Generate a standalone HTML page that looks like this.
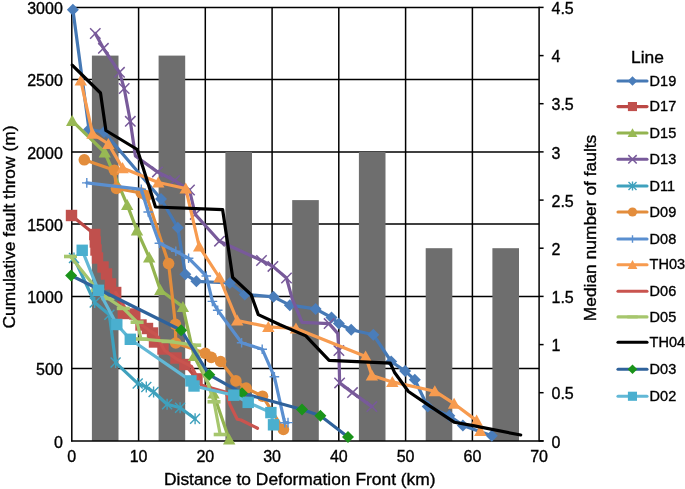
<!DOCTYPE html><html><head><meta charset="utf-8"><style>html,body{margin:0;padding:0;background:#fff;}svg{display:block;will-change:transform}text{font-family:"Liberation Sans", sans-serif;fill:#000;stroke:#000;stroke-width:0.35px}</style></head><body>
<svg width="685" height="489" viewBox="0 0 685 489">
<rect width="685" height="489" fill="#fff"/>
<g stroke="#000" stroke-width="1.5"><line x1="71.8" y1="368.6" x2="539.1" y2="368.6"/><line x1="71.8" y1="296.4" x2="539.1" y2="296.4"/><line x1="71.8" y1="224.1" x2="539.1" y2="224.1"/><line x1="71.8" y1="151.9" x2="539.1" y2="151.9"/><line x1="71.8" y1="79.6" x2="539.1" y2="79.6"/><line x1="71.8" y1="7.4" x2="539.1" y2="7.4"/><line x1="138.6" y1="7.4" x2="138.6" y2="440.9"/><line x1="205.3" y1="7.4" x2="205.3" y2="440.9"/><line x1="272.1" y1="7.4" x2="272.1" y2="440.9"/><line x1="338.8" y1="7.4" x2="338.8" y2="440.9"/><line x1="405.6" y1="7.4" x2="405.6" y2="440.9"/><line x1="472.4" y1="7.4" x2="472.4" y2="440.9"/></g>
<rect x="91.9" y="55.6" width="26.6" height="385.3" fill="#6e6e6e"/>
<rect x="158.6" y="55.6" width="26.6" height="385.3" fill="#6e6e6e"/>
<rect x="225.4" y="151.9" width="26.6" height="289.0" fill="#6e6e6e"/>
<rect x="292.2" y="200.1" width="26.6" height="240.8" fill="#6e6e6e"/>
<rect x="358.9" y="151.9" width="26.6" height="289.0" fill="#6e6e6e"/>
<rect x="425.7" y="248.2" width="26.6" height="192.7" fill="#6e6e6e"/>
<rect x="492.4" y="248.2" width="26.6" height="192.7" fill="#6e6e6e"/>
<g stroke="#000" stroke-width="1.5" fill="none"><line x1="71.8" y1="6.7" x2="71.8" y2="441.6"/><line x1="71.1" y1="440.9" x2="543.6" y2="440.9"/><line x1="539.1" y1="6.7" x2="539.1" y2="441.6"/>
<line x1="539.1" y1="440.9" x2="543.6" y2="440.9"/>
<line x1="539.1" y1="392.7" x2="543.6" y2="392.7"/>
<line x1="539.1" y1="344.6" x2="543.6" y2="344.6"/>
<line x1="539.1" y1="296.4" x2="543.6" y2="296.4"/>
<line x1="539.1" y1="248.2" x2="543.6" y2="248.2"/>
<line x1="539.1" y1="200.1" x2="543.6" y2="200.1"/>
<line x1="539.1" y1="151.9" x2="543.6" y2="151.9"/>
<line x1="539.1" y1="103.7" x2="543.6" y2="103.7"/>
<line x1="539.1" y1="55.6" x2="543.6" y2="55.6"/>
<line x1="539.1" y1="7.4" x2="543.6" y2="7.4"/>
</g>
<path d="M72.9 9.8L89.0 129.5L104.0 132.0L161.0 199.0L177.8 227.8L185.3 274.3L196.4 281.3L229.9 283.0L244.8 294.4L273.5 296.8L289.8 305.2L315.6 308.9L331.5 317.5L338.9 323.6L351.2 329.8L373.3 334.7L391.2 361.5L405.1 371.1L414.8 379.7L427.7 406.6L449.3 415.8L462.9 425.4L491.8 435.8" fill="none" stroke="#4679b5" stroke-width="3.2" stroke-linejoin="round" stroke-linecap="round"/>
<path d="M72.9 3.8L78.9 9.8L72.9 15.8L66.9 9.8Z" fill="#4a7dba"/>
<path d="M89.0 123.5L95.0 129.5L89.0 135.5L83.0 129.5Z" fill="#4a7dba"/>
<path d="M104.0 126.0L110.0 132.0L104.0 138.0L98.0 132.0Z" fill="#4a7dba"/>
<path d="M161.0 193.0L167.0 199.0L161.0 205.0L155.0 199.0Z" fill="#4a7dba"/>
<path d="M177.8 221.8L183.8 227.8L177.8 233.8L171.8 227.8Z" fill="#4a7dba"/>
<path d="M185.3 268.3L191.3 274.3L185.3 280.3L179.3 274.3Z" fill="#4a7dba"/>
<path d="M196.4 275.3L202.4 281.3L196.4 287.3L190.4 281.3Z" fill="#4a7dba"/>
<path d="M229.9 277.0L235.9 283.0L229.9 289.0L223.9 283.0Z" fill="#4a7dba"/>
<path d="M244.8 288.4L250.8 294.4L244.8 300.4L238.8 294.4Z" fill="#4a7dba"/>
<path d="M273.5 290.8L279.5 296.8L273.5 302.8L267.5 296.8Z" fill="#4a7dba"/>
<path d="M289.8 299.2L295.8 305.2L289.8 311.2L283.8 305.2Z" fill="#4a7dba"/>
<path d="M315.6 302.9L321.6 308.9L315.6 314.9L309.6 308.9Z" fill="#4a7dba"/>
<path d="M331.5 311.5L337.5 317.5L331.5 323.5L325.5 317.5Z" fill="#4a7dba"/>
<path d="M338.9 317.6L344.9 323.6L338.9 329.6L332.9 323.6Z" fill="#4a7dba"/>
<path d="M351.2 323.8L357.2 329.8L351.2 335.8L345.2 329.8Z" fill="#4a7dba"/>
<path d="M373.3 328.7L379.3 334.7L373.3 340.7L367.3 334.7Z" fill="#4a7dba"/>
<path d="M391.2 355.5L397.2 361.5L391.2 367.5L385.2 361.5Z" fill="#4a7dba"/>
<path d="M405.1 365.1L411.1 371.1L405.1 377.1L399.1 371.1Z" fill="#4a7dba"/>
<path d="M414.8 373.7L420.8 379.7L414.8 385.7L408.8 379.7Z" fill="#4a7dba"/>
<path d="M427.7 400.6L433.7 406.6L427.7 412.6L421.7 406.6Z" fill="#4a7dba"/>
<path d="M449.3 409.8L455.3 415.8L449.3 421.8L443.3 415.8Z" fill="#4a7dba"/>
<path d="M462.9 419.4L468.9 425.4L462.9 431.4L456.9 425.4Z" fill="#4a7dba"/>
<path d="M491.8 429.8L497.8 435.8L491.8 441.8L485.8 435.8Z" fill="#4a7dba"/>
<path d="M71.5 215.5L94.8 234.5L95.3 242.0L96.0 250.0L97.5 258.0L103.0 267.0L106.5 274.0L110.5 284.0L115.7 292.5L123.3 313.5L134.8 314.0L141.0 325.0L147.5 328.5L152.5 333.0L154.5 342.0L163.0 349.0L176.0 358.0L184.8 364.5L197.0 378.9" fill="none" stroke="#bb4845" stroke-width="3.2" stroke-linejoin="round" stroke-linecap="round"/>
<rect x="65.8" y="209.8" width="11.4" height="11.4" fill="#c0504d"/>
<rect x="89.1" y="228.8" width="11.4" height="11.4" fill="#c0504d"/>
<rect x="89.6" y="236.3" width="11.4" height="11.4" fill="#c0504d"/>
<rect x="90.3" y="244.3" width="11.4" height="11.4" fill="#c0504d"/>
<rect x="91.8" y="252.3" width="11.4" height="11.4" fill="#c0504d"/>
<rect x="97.3" y="261.3" width="11.4" height="11.4" fill="#c0504d"/>
<rect x="100.8" y="268.3" width="11.4" height="11.4" fill="#c0504d"/>
<rect x="104.8" y="278.3" width="11.4" height="11.4" fill="#c0504d"/>
<rect x="110.0" y="286.8" width="11.4" height="11.4" fill="#c0504d"/>
<rect x="117.6" y="307.8" width="11.4" height="11.4" fill="#c0504d"/>
<rect x="129.1" y="308.3" width="11.4" height="11.4" fill="#c0504d"/>
<rect x="135.3" y="319.3" width="11.4" height="11.4" fill="#c0504d"/>
<rect x="141.8" y="322.8" width="11.4" height="11.4" fill="#c0504d"/>
<rect x="146.8" y="327.3" width="11.4" height="11.4" fill="#c0504d"/>
<rect x="148.8" y="336.3" width="11.4" height="11.4" fill="#c0504d"/>
<rect x="157.3" y="343.3" width="11.4" height="11.4" fill="#c0504d"/>
<rect x="170.3" y="352.3" width="11.4" height="11.4" fill="#c0504d"/>
<rect x="179.1" y="358.8" width="11.4" height="11.4" fill="#c0504d"/>
<rect x="191.3" y="373.2" width="11.4" height="11.4" fill="#c0504d"/>
<path d="M72.2 120.8L104.8 152.5L127.2 204.9L137.0 230.3L149.2 257.5L160.3 290.0L182.9 306.9L194.0 356.0L213.5 393.4L229.2 439.4" fill="none" stroke="#93b450" stroke-width="3.2" stroke-linejoin="round" stroke-linecap="round"/>
<path d="M72.2 114.8L78.4 125.9L66.0 125.9Z" fill="#98b954"/>
<path d="M104.8 146.5L111.0 157.6L98.6 157.6Z" fill="#98b954"/>
<path d="M127.2 198.9L133.4 210.0L121.0 210.0Z" fill="#98b954"/>
<path d="M137.0 224.3L143.2 235.4L130.8 235.4Z" fill="#98b954"/>
<path d="M149.2 251.5L155.4 262.6L143.0 262.6Z" fill="#98b954"/>
<path d="M160.3 284.0L166.5 295.1L154.1 295.1Z" fill="#98b954"/>
<path d="M182.9 300.9L189.1 312.0L176.7 312.0Z" fill="#98b954"/>
<path d="M194.0 350.0L200.2 361.1L187.8 361.1Z" fill="#98b954"/>
<path d="M213.5 387.4L219.7 398.5L207.3 398.5Z" fill="#98b954"/>
<path d="M229.2 433.4L235.4 444.5L223.0 444.5Z" fill="#98b954"/>
<path d="M95.3 33.5L103.4 48.3L119.5 72.3L124.2 88.5L130.3 121.3L135.4 156.0L157.4 171.9L174.6 180.5L189.5 190.0L195.2 214.4L219.5 241.2L261.5 260.5L272.9 266.4L286.5 278.0L292.3 299.1L302.1 322.4L329.1 323.6L337.7 333.4L338.9 350.6L339.6 382.9L352.5 392.6L371.9 406.6" fill="none" stroke="#785a9a" stroke-width="3.2" stroke-linejoin="round" stroke-linecap="round"/>
<path d="M90.1 28.3L100.5 38.7M100.5 28.3L90.1 38.7" stroke="#785a9a" stroke-width="1.5" fill="none"/>
<path d="M98.2 43.1L108.6 53.5M108.6 43.1L98.2 53.5" stroke="#785a9a" stroke-width="1.5" fill="none"/>
<path d="M114.3 67.1L124.7 77.5M124.7 67.1L114.3 77.5" stroke="#785a9a" stroke-width="1.5" fill="none"/>
<path d="M119.0 83.3L129.4 93.7M129.4 83.3L119.0 93.7" stroke="#785a9a" stroke-width="1.5" fill="none"/>
<path d="M125.1 116.1L135.5 126.5M135.5 116.1L125.1 126.5" stroke="#785a9a" stroke-width="1.5" fill="none"/>
<path d="M152.2 166.7L162.6 177.1M162.6 166.7L152.2 177.1" stroke="#785a9a" stroke-width="1.5" fill="none"/>
<path d="M169.4 175.3L179.8 185.7M179.8 175.3L169.4 185.7" stroke="#785a9a" stroke-width="1.5" fill="none"/>
<path d="M184.3 184.8L194.7 195.2M194.7 184.8L184.3 195.2" stroke="#785a9a" stroke-width="1.5" fill="none"/>
<path d="M190.0 209.2L200.4 219.6M200.4 209.2L190.0 219.6" stroke="#785a9a" stroke-width="1.5" fill="none"/>
<path d="M214.3 236.0L224.7 246.4M224.7 236.0L214.3 246.4" stroke="#785a9a" stroke-width="1.5" fill="none"/>
<path d="M256.3 255.3L266.7 265.7M266.7 255.3L256.3 265.7" stroke="#785a9a" stroke-width="1.5" fill="none"/>
<path d="M267.7 261.2L278.1 271.6M278.1 261.2L267.7 271.6" stroke="#785a9a" stroke-width="1.5" fill="none"/>
<path d="M281.3 272.8L291.7 283.2M291.7 272.8L281.3 283.2" stroke="#785a9a" stroke-width="1.5" fill="none"/>
<path d="M323.9 318.4L334.3 328.8M334.3 318.4L323.9 328.8" stroke="#785a9a" stroke-width="1.5" fill="none"/>
<path d="M333.7 345.4L344.1 355.8M344.1 345.4L333.7 355.8" stroke="#785a9a" stroke-width="1.5" fill="none"/>
<path d="M334.4 377.7L344.8 388.1M344.8 377.7L334.4 388.1" stroke="#785a9a" stroke-width="1.5" fill="none"/>
<path d="M347.3 387.4L357.7 397.8M357.7 387.4L347.3 397.8" stroke="#785a9a" stroke-width="1.5" fill="none"/>
<path d="M366.7 401.4L377.1 411.8M377.1 401.4L366.7 411.8" stroke="#785a9a" stroke-width="1.5" fill="none"/>
<path d="M74.0 258.0L94.7 302.5L109.4 314.7L115.6 362.6L137.7 383.4L146.3 387.1L153.6 392.0L167.1 404.3L180.1 407.8L195.1 418.8" fill="none" stroke="#3fa1bd" stroke-width="3.2" stroke-linejoin="round" stroke-linecap="round"/>
<path d="M69.0 253.0L79.0 263.0M79.0 253.0L69.0 263.0M74.0 252.5L74.0 263.5" stroke="#3fa1bd" stroke-width="1.4" fill="none"/>
<path d="M89.7 297.5L99.7 307.5M99.7 297.5L89.7 307.5M94.7 297.0L94.7 308.0" stroke="#3fa1bd" stroke-width="1.4" fill="none"/>
<path d="M104.4 309.7L114.4 319.7M114.4 309.7L104.4 319.7M109.4 309.2L109.4 320.2" stroke="#3fa1bd" stroke-width="1.4" fill="none"/>
<path d="M110.6 357.6L120.6 367.6M120.6 357.6L110.6 367.6M115.6 357.1L115.6 368.1" stroke="#3fa1bd" stroke-width="1.4" fill="none"/>
<path d="M132.7 378.4L142.7 388.4M142.7 378.4L132.7 388.4M137.7 377.9L137.7 388.9" stroke="#3fa1bd" stroke-width="1.4" fill="none"/>
<path d="M141.3 382.1L151.3 392.1M151.3 382.1L141.3 392.1M146.3 381.6L146.3 392.6" stroke="#3fa1bd" stroke-width="1.4" fill="none"/>
<path d="M148.6 387.0L158.6 397.0M158.6 387.0L148.6 397.0M153.6 386.5L153.6 397.5" stroke="#3fa1bd" stroke-width="1.4" fill="none"/>
<path d="M162.1 399.3L172.1 409.3M172.1 399.3L162.1 409.3M167.1 398.8L167.1 409.8" stroke="#3fa1bd" stroke-width="1.4" fill="none"/>
<path d="M175.1 402.8L185.1 412.8M185.1 402.8L175.1 412.8M180.1 402.3L180.1 413.3" stroke="#3fa1bd" stroke-width="1.4" fill="none"/>
<path d="M190.1 413.8L200.1 423.8M200.1 413.8L190.1 423.8M195.1 413.3L195.1 424.3" stroke="#3fa1bd" stroke-width="1.4" fill="none"/>
<path d="M84.3 159.8L114.4 170.2L116.5 188.5L141.3 193.0L146.5 195.7L168.6 263.6L175.4 324.3L175.7 343.0L205.2 353.3L211.3 357.4L220.6 361.5L235.9 380.9L246.1 388.1L262.5 396.2L283.4 429.4" fill="none" stroke="#e38d3c" stroke-width="3.2" stroke-linejoin="round" stroke-linecap="round"/>
<circle cx="84.3" cy="159.8" r="5.8" fill="#e38d3c"/>
<circle cx="114.4" cy="170.2" r="5.8" fill="#e38d3c"/>
<circle cx="116.5" cy="188.5" r="5.8" fill="#e38d3c"/>
<circle cx="141.3" cy="193.0" r="5.8" fill="#e38d3c"/>
<circle cx="146.5" cy="195.7" r="5.8" fill="#e38d3c"/>
<circle cx="168.6" cy="263.6" r="5.8" fill="#e38d3c"/>
<circle cx="175.4" cy="324.3" r="5.8" fill="#e38d3c"/>
<circle cx="175.7" cy="343.0" r="5.8" fill="#e38d3c"/>
<circle cx="205.2" cy="353.3" r="5.8" fill="#e38d3c"/>
<circle cx="211.3" cy="357.4" r="5.8" fill="#e38d3c"/>
<circle cx="220.6" cy="361.5" r="5.8" fill="#e38d3c"/>
<circle cx="235.9" cy="380.9" r="5.8" fill="#e38d3c"/>
<circle cx="246.1" cy="388.1" r="5.8" fill="#e38d3c"/>
<circle cx="262.5" cy="396.2" r="5.8" fill="#e38d3c"/>
<circle cx="283.4" cy="429.4" r="5.8" fill="#e38d3c"/>
<path d="M86.8 182.9L141.3 189.3L148.2 212.0L159.4 243.2L175.8 251.3L188.6 258.2L206.3 276.0L212.4 301.4L217.7 310.2L241.6 342.8L262.2 349.2L274.4 376.8L284.7 422.8L288.0 422.6" fill="none" stroke="#5a8fd0" stroke-width="3.2" stroke-linejoin="round" stroke-linecap="round"/>
<path d="M86.8 178.1L86.8 187.7M82.0 182.9L91.6 182.9" stroke="#5a8fd0" stroke-width="1.4" fill="none"/>
<path d="M141.3 184.5L141.3 194.1M136.5 189.3L146.1 189.3" stroke="#5a8fd0" stroke-width="1.4" fill="none"/>
<path d="M148.2 207.2L148.2 216.8M143.4 212.0L153.0 212.0" stroke="#5a8fd0" stroke-width="1.4" fill="none"/>
<path d="M159.4 238.4L159.4 248.0M154.6 243.2L164.2 243.2" stroke="#5a8fd0" stroke-width="1.4" fill="none"/>
<path d="M175.8 246.5L175.8 256.1M171.0 251.3L180.6 251.3" stroke="#5a8fd0" stroke-width="1.4" fill="none"/>
<path d="M188.6 253.4L188.6 263.0M183.8 258.2L193.4 258.2" stroke="#5a8fd0" stroke-width="1.4" fill="none"/>
<path d="M206.3 271.2L206.3 280.8M201.5 276.0L211.1 276.0" stroke="#5a8fd0" stroke-width="1.4" fill="none"/>
<path d="M212.4 296.6L212.4 306.2M207.6 301.4L217.2 301.4" stroke="#5a8fd0" stroke-width="1.4" fill="none"/>
<path d="M217.7 305.4L217.7 315.0M212.9 310.2L222.5 310.2" stroke="#5a8fd0" stroke-width="1.4" fill="none"/>
<path d="M241.6 338.0L241.6 347.6M236.8 342.8L246.4 342.8" stroke="#5a8fd0" stroke-width="1.4" fill="none"/>
<path d="M262.2 344.4L262.2 354.0M257.4 349.2L267.0 349.2" stroke="#5a8fd0" stroke-width="1.4" fill="none"/>
<path d="M274.4 372.0L274.4 381.6M269.6 376.8L279.2 376.8" stroke="#5a8fd0" stroke-width="1.4" fill="none"/>
<path d="M284.7 418.0L284.7 427.6M279.9 422.8L289.5 422.8" stroke="#5a8fd0" stroke-width="1.4" fill="none"/>
<path d="M288.0 417.8L288.0 427.4M283.2 422.6L292.8 422.6" stroke="#5a8fd0" stroke-width="1.4" fill="none"/>
<path d="M80.8 80.4L92.5 133.6L108.4 144.0L122.6 168.1L158.3 182.5L185.7 188.5L199.2 246.5L219.4 277.5L237.2 320.5L268.3 326.9L296.0 328.5L365.6 356.4L371.9 375.4L392.3 381.9L434.8 391.2L454.1 403.7L476.6 420.6L480.3 431.0" fill="none" stroke="#f79b4f" stroke-width="3.2" stroke-linejoin="round" stroke-linecap="round"/>
<path d="M80.8 74.4L87.0 85.5L74.6 85.5Z" fill="#f79b4f"/>
<path d="M92.5 127.6L98.7 138.7L86.3 138.7Z" fill="#f79b4f"/>
<path d="M108.4 138.0L114.6 149.1L102.2 149.1Z" fill="#f79b4f"/>
<path d="M122.6 162.1L128.8 173.2L116.4 173.2Z" fill="#f79b4f"/>
<path d="M158.3 176.5L164.5 187.6L152.1 187.6Z" fill="#f79b4f"/>
<path d="M185.7 182.5L191.9 193.6L179.5 193.6Z" fill="#f79b4f"/>
<path d="M199.2 240.5L205.4 251.6L193.0 251.6Z" fill="#f79b4f"/>
<path d="M219.4 271.5L225.6 282.6L213.2 282.6Z" fill="#f79b4f"/>
<path d="M237.2 314.5L243.4 325.6L231.0 325.6Z" fill="#f79b4f"/>
<path d="M268.3 320.9L274.5 332.0L262.1 332.0Z" fill="#f79b4f"/>
<path d="M296.0 322.5L302.2 333.6L289.8 333.6Z" fill="#f79b4f"/>
<path d="M365.6 350.4L371.8 361.5L359.4 361.5Z" fill="#f79b4f"/>
<path d="M371.9 369.4L378.1 380.5L365.7 380.5Z" fill="#f79b4f"/>
<path d="M392.3 375.9L398.5 387.0L386.1 387.0Z" fill="#f79b4f"/>
<path d="M434.8 385.2L441.0 396.3L428.6 396.3Z" fill="#f79b4f"/>
<path d="M454.1 397.7L460.3 408.8L447.9 408.8Z" fill="#f79b4f"/>
<path d="M476.6 414.6L482.8 425.7L470.4 425.7Z" fill="#f79b4f"/>
<path d="M480.3 425.0L486.5 436.1L474.1 436.1Z" fill="#f79b4f"/>
<path d="M115.7 292.5L130.0 316.0L150.0 331.0L156.0 334.5L164.5 350.5L176.8 359.1L191.5 366.4L201.1 385.0L226.2 392.3L229.9 404.5L237.3 419.3L241.0 420.0L257.5 428.3" fill="none" stroke="#c9544f" stroke-width="3.2" stroke-linejoin="round" stroke-linecap="round"/>













<path d="M70.5 256.5L97.7 290.3L108.0 298.5L123.3 308.4L137.1 322.2L141.0 339.0L168.0 341.4L194.7 345.2L214.0 401.8L220.2 434.5" fill="none" stroke="#a6c66d" stroke-width="3.2" stroke-linejoin="round" stroke-linecap="round"/>
<rect x="64.0" y="254.7" width="13.0" height="3.6" fill="#a6c66d"/>
<rect x="91.2" y="288.5" width="13.0" height="3.6" fill="#a6c66d"/>
<rect x="101.5" y="296.7" width="13.0" height="3.6" fill="#a6c66d"/>
<rect x="116.8" y="306.6" width="13.0" height="3.6" fill="#a6c66d"/>
<rect x="130.6" y="320.4" width="13.0" height="3.6" fill="#a6c66d"/>
<rect x="134.5" y="337.2" width="13.0" height="3.6" fill="#a6c66d"/>
<rect x="161.5" y="339.6" width="13.0" height="3.6" fill="#a6c66d"/>
<rect x="188.2" y="343.4" width="13.0" height="3.6" fill="#a6c66d"/>
<rect x="207.5" y="400.0" width="13.0" height="3.6" fill="#a6c66d"/>
<rect x="213.7" y="432.7" width="13.0" height="3.6" fill="#a6c66d"/>
<path d="M72.2 65.1L100.5 93.0L105.9 130.5L137.3 149.5L155.5 207.0L222.6 209.6L232.7 277.5L251.1 294.6L258.3 314.6L280.0 324.8L305.8 335.9L329.1 360.4L390.3 363.2L394.4 372.2L408.4 391.5L430.0 406.1L454.1 422.2L471.8 425.4L520.7 435.0" fill="none" stroke="#000000" stroke-width="3.2" stroke-linejoin="round" stroke-linecap="round"/>
<path d="M71.1 275.5L181.1 330.2L209.3 374.8L242.0 393.2L302.0 409.5L320.4 415.7L348.0 436.9" fill="none" stroke="#2f629b" stroke-width="3.2" stroke-linejoin="round" stroke-linecap="round"/>
<path d="M71.1 269.5L77.1 275.5L71.1 281.5L65.1 275.5Z" fill="#1a931a"/>
<path d="M181.1 324.2L187.1 330.2L181.1 336.2L175.1 330.2Z" fill="#1a931a"/>
<path d="M209.3 368.8L215.3 374.8L209.3 380.8L203.3 374.8Z" fill="#1a931a"/>
<path d="M242.0 387.2L248.0 393.2L242.0 399.2L236.0 393.2Z" fill="#1a931a"/>
<path d="M302.0 403.5L308.0 409.5L302.0 415.5L296.0 409.5Z" fill="#1a931a"/>
<path d="M320.4 409.7L326.4 415.7L320.4 421.7L314.4 415.7Z" fill="#1a931a"/>
<path d="M348.0 430.9L354.0 436.9L348.0 442.9L342.0 436.9Z" fill="#1a931a"/>
<path d="M82.2 250.3L98.4 290.3L116.8 324.5L130.3 339.3L190.9 380.9L194.0 386.0L233.8 395.2L248.2 402.4L270.9 412.6L273.5 424.8" fill="none" stroke="#62b8d6" stroke-width="3.2" stroke-linejoin="round" stroke-linecap="round"/>
<rect x="76.5" y="244.6" width="11.4" height="11.4" fill="#4aafcf"/>
<rect x="92.7" y="284.6" width="11.4" height="11.4" fill="#4aafcf"/>
<rect x="111.1" y="318.8" width="11.4" height="11.4" fill="#4aafcf"/>
<rect x="124.6" y="333.6" width="11.4" height="11.4" fill="#4aafcf"/>
<rect x="185.2" y="375.2" width="11.4" height="11.4" fill="#4aafcf"/>
<rect x="188.3" y="380.3" width="11.4" height="11.4" fill="#4aafcf"/>
<rect x="228.1" y="389.5" width="11.4" height="11.4" fill="#4aafcf"/>
<rect x="242.5" y="396.7" width="11.4" height="11.4" fill="#4aafcf"/>
<rect x="265.2" y="406.9" width="11.4" height="11.4" fill="#4aafcf"/>
<rect x="267.8" y="419.1" width="11.4" height="11.4" fill="#4aafcf"/>
<text x="62.8" y="447.5" font-size="16" text-anchor="end">0</text>
<text x="62.8" y="375.2" font-size="16" text-anchor="end">500</text>
<text x="62.8" y="303.0" font-size="16" text-anchor="end">1000</text>
<text x="62.8" y="230.7" font-size="16" text-anchor="end">1500</text>
<text x="62.8" y="158.5" font-size="16" text-anchor="end">2000</text>
<text x="62.8" y="86.2" font-size="16" text-anchor="end">2500</text>
<text x="62.8" y="14.0" font-size="16" text-anchor="end">3000</text>
<text x="71.8" y="461.5" font-size="16" text-anchor="middle">0</text>
<text x="138.6" y="461.5" font-size="16" text-anchor="middle">10</text>
<text x="205.3" y="461.5" font-size="16" text-anchor="middle">20</text>
<text x="272.1" y="461.5" font-size="16" text-anchor="middle">30</text>
<text x="338.8" y="461.5" font-size="16" text-anchor="middle">40</text>
<text x="405.6" y="461.5" font-size="16" text-anchor="middle">50</text>
<text x="472.4" y="461.5" font-size="16" text-anchor="middle">60</text>
<text x="539.1" y="461.5" font-size="16" text-anchor="middle">70</text>
<text x="551.5" y="447.5" font-size="16">0</text>
<text x="551.5" y="399.3" font-size="16">0.5</text>
<text x="551.5" y="351.2" font-size="16">1</text>
<text x="551.5" y="303.0" font-size="16">1.5</text>
<text x="551.5" y="254.8" font-size="16">2</text>
<text x="551.5" y="206.7" font-size="16">2.5</text>
<text x="551.5" y="158.5" font-size="16">3</text>
<text x="551.5" y="110.3" font-size="16">3.5</text>
<text x="551.5" y="62.2" font-size="16">4</text>
<text x="551.5" y="14.0" font-size="16">4.5</text>
<text x="164" y="484.8" font-size="17.4">Distance to Deformation Front (km)</text>
<text transform="translate(15.3,227) rotate(-90)" font-size="17.4" text-anchor="middle">Cumulative fault throw (m)</text>
<text transform="translate(595.8,228) rotate(-90)" font-size="17.4" text-anchor="middle">Median number of faults</text>
<text x="631" y="63.2" font-size="17.4">Line</text>
<line x1="618" y1="81.0" x2="647" y2="81.0" stroke="#4679b5" stroke-width="3.1" stroke-linecap="round"/>
<path d="M632.5 76.2L637.3 81.0L632.5 85.8L627.7 81.0Z" fill="#4a7dba"/>
<text x="649.6" y="85.6" font-size="14.5">D19</text>
<line x1="618" y1="106.6" x2="647" y2="106.6" stroke="#bb4845" stroke-width="3.1" stroke-linecap="round"/>
<rect x="627.9" y="102.0" width="9.1" height="9.1" fill="#c0504d"/>
<text x="649.6" y="111.2" font-size="14.5">D17</text>
<line x1="618" y1="133.0" x2="647" y2="133.0" stroke="#93b450" stroke-width="3.1" stroke-linecap="round"/>
<path d="M632.5 128.2L637.4 137.1L627.6 137.1Z" fill="#98b954"/>
<text x="649.6" y="137.6" font-size="14.5">D15</text>
<line x1="618" y1="159.3" x2="647" y2="159.3" stroke="#785a9a" stroke-width="3.1" stroke-linecap="round"/>
<path d="M628.3 155.1L636.7 163.5M636.7 155.1L628.3 163.5" stroke="#785a9a" stroke-width="1.5" fill="none"/>
<text x="649.6" y="163.9" font-size="14.5">D13</text>
<line x1="618" y1="186.0" x2="647" y2="186.0" stroke="#3fa1bd" stroke-width="3.1" stroke-linecap="round"/>
<path d="M628.5 182.0L636.5 190.0M636.5 182.0L628.5 190.0M632.5 181.6L632.5 190.4" stroke="#3fa1bd" stroke-width="1.4" fill="none"/>
<text x="649.6" y="190.6" font-size="14.5">D11</text>
<line x1="618" y1="212.0" x2="647" y2="212.0" stroke="#e38d3c" stroke-width="3.1" stroke-linecap="round"/>
<circle cx="632.5" cy="212.0" r="4.6" fill="#e38d3c"/>
<text x="649.6" y="216.6" font-size="14.5">D09</text>
<line x1="618" y1="239.0" x2="647" y2="239.0" stroke="#5a8fd0" stroke-width="3.1" stroke-linecap="round"/>
<path d="M632.5 235.2L632.5 242.8M628.7 239.0L636.3 239.0" stroke="#5a8fd0" stroke-width="1.4" fill="none"/>
<text x="649.6" y="243.6" font-size="14.5">D08</text>
<line x1="618" y1="264.8" x2="647" y2="264.8" stroke="#f79b4f" stroke-width="3.1" stroke-linecap="round"/>
<path d="M632.5 260.0L637.4 268.9L627.6 268.9Z" fill="#f79b4f"/>
<text x="649.6" y="269.4" font-size="14.5">TH03</text>
<line x1="618" y1="291.2" x2="647" y2="291.2" stroke="#c9544f" stroke-width="3.1" stroke-linecap="round"/>

<text x="649.6" y="295.8" font-size="14.5">D06</text>
<line x1="618" y1="316.9" x2="647" y2="316.9" stroke="#a6c66d" stroke-width="3.1" stroke-linecap="round"/>
<rect x="627.3" y="315.5" width="10.4" height="2.9" fill="#a6c66d"/>
<text x="649.6" y="321.5" font-size="14.5">D05</text>
<line x1="618" y1="342.3" x2="647" y2="342.3" stroke="#000000" stroke-width="3.1" stroke-linecap="round"/>
<text x="649.6" y="346.9" font-size="14.5">TH04</text>
<line x1="618" y1="369.3" x2="647" y2="369.3" stroke="#2f629b" stroke-width="3.1" stroke-linecap="round"/>
<path d="M632.5 364.5L637.3 369.3L632.5 374.1L627.7 369.3Z" fill="#1a931a"/>
<text x="649.6" y="373.9" font-size="14.5">D03</text>
<line x1="618" y1="396.3" x2="647" y2="396.3" stroke="#62b8d6" stroke-width="3.1" stroke-linecap="round"/>
<rect x="627.9" y="391.7" width="9.1" height="9.1" fill="#4aafcf"/>
<text x="649.6" y="400.9" font-size="14.5">D02</text>
</svg></body></html>
